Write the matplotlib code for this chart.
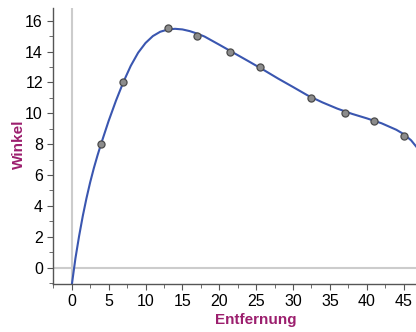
import matplotlib
matplotlib.use("Agg")
import matplotlib.pyplot as plt
from matplotlib.ticker import MultipleLocator

# measured points
dist = [4, 7, 13, 17, 21.5, 25.5, 32.5, 37, 41, 45]
angle = [8, 12, 15.5, 15, 14, 13, 11, 10, 9.5, 8.5]

# fitted curve
curve_x = [0, 0.5, 1, 1.5, 2, 2.5, 3, 3.5, 4, 5, 6, 7, 8, 9, 10, 11, 12, 13, 14,
           15, 16, 17, 18, 20, 22, 24, 26, 28, 30, 32, 34, 36, 38, 40, 42, 44,
           45, 46, 46.7]
curve_y = [-1.15, 0.6, 2.05, 3.35, 4.5, 5.53, 6.45, 7.28, 8.05, 9.5, 10.82,
           12.02, 13.07, 13.92, 14.55, 15.0, 15.28, 15.42, 15.47, 15.43, 15.32,
           15.16, 14.97, 14.44, 13.9, 13.36, 12.81, 12.24, 11.7, 11.15, 10.7,
           10.3, 9.96, 9.67, 9.35, 8.93, 8.65, 8.25, 7.84]

label_col = '#9c1f6e'
plt.rcParams['font.family'] = ['Liberation Sans', 'DejaVu Sans']

fig = plt.figure(figsize=(4.16, 3.32), dpi=100)
ax = fig.add_axes([0.1267, 0.1437, 0.8733, 0.8323])

ax.axhline(0, color='#cccccc', lw=1.5, zorder=1)
ax.axvline(0, color='#cccccc', lw=1.5, zorder=1)
ax.plot(curve_x, curve_y, color='#3a56b0', lw=1.5, zorder=2)
ax.scatter(dist, angle, s=26, color='#8c8c8c', edgecolors='#4a4a4a',
           linewidths=0.9, zorder=3)

ax.set_xlim(-2.58, 46.67)
ax.set_ylim(-1.08, 16.82)
ax.xaxis.set_major_locator(MultipleLocator(5))
ax.xaxis.set_minor_locator(MultipleLocator(2.5))
ax.yaxis.set_major_locator(MultipleLocator(2))
ax.yaxis.set_minor_locator(MultipleLocator(1))

for s in ['top', 'right']:
    ax.spines[s].set_visible(False)
for s in ['left', 'bottom']:
    ax.spines[s].set_color('#555555')
    ax.spines[s].set_linewidth(1.0)
ax.tick_params(which='major', length=4, color='#555555', labelsize=11.5, pad=3)
ax.tick_params(which='minor', length=3, color='#555555')

ax.set_xlabel('Entfernung', color=label_col, fontsize=11, fontweight='bold')
ax.set_ylabel('Winkel', color=label_col, fontsize=11, fontweight='bold')
ax.xaxis.set_label_coords(0.56, -0.104)
ax.yaxis.set_label_coords(-0.073, 0.508)

fig.savefig('out.png', dpi=100)
